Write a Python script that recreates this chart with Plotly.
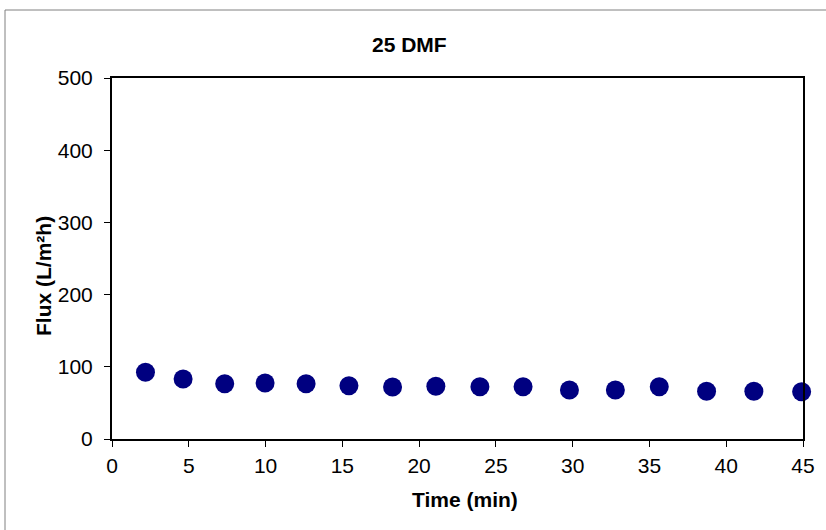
import plotly.graph_objects as go

time_min = [2.18, 4.63, 7.34, 9.97, 12.64, 15.43, 18.27, 21.09, 23.96, 26.77, 29.79, 32.78, 35.64, 38.72, 41.80, 44.91]
flux = [92.4, 83.1, 76.6, 77.6, 76.6, 73.8, 72.0, 73.0, 72.4, 72.4, 67.9, 67.9, 72.4, 66.1, 66.1, 65.5]

x_ticks = [0, 5, 10, 15, 20, 25, 30, 35, 40, 45]
y_ticks = [0, 100, 200, 300, 400, 500]

FONT = "Liberation Sans, Arial, sans-serif"
L, R, T, B = 112, 23, 78, 91
W, H = 826, 530
PW, PH = W - L - R, H - T - B


def px_to_paper(px, py):
    return (px - L) / PW, (H - B - py) / PH


fig = go.Figure()
fig.add_trace(go.Scatter(
    x=time_min, y=flux, mode="markers",
    marker=dict(size=19, color="#000080", line=dict(width=0)),
    cliponaxis=False, showlegend=False,
))

fig.update_layout(
    width=W, height=H,
    margin=dict(l=L, r=R, t=T, b=B),
    paper_bgcolor="white", plot_bgcolor="white",
    font=dict(family=FONT, color="black", size=21),
    showlegend=False,
)
fig.update_xaxes(
    range=[0, 45], tickvals=x_ticks, ticktext=[str(v) for v in x_ticks],
    showgrid=False, zeroline=False,
    showline=True, linecolor="black", linewidth=2, mirror=True,
    ticks="outside", ticklen=6, tickcolor="black", tickwidth=1,
    tickfont=dict(size=21, family=FONT), ticklabelstandoff=1,
)
fig.update_yaxes(
    range=[0, 500], tickvals=y_ticks, ticktext=[str(v) for v in y_ticks],
    showgrid=False, zeroline=False,
    showline=True, linecolor="black", linewidth=2, mirror=True,
    ticks="outside", ticklen=6, tickcolor="black", tickwidth=1,
    tickfont=dict(size=21, family=FONT), ticklabelstandoff=7,
)

tx, ty = px_to_paper(409, 45)
fig.add_annotation(
    text="<b>25 DMF</b>", xref="paper", yref="paper",
    x=tx, y=ty, showarrow=False,
    font=dict(size=21, family=FONT, color="black"),
    xanchor="center", yanchor="middle",
)
ax_, ay_ = px_to_paper(465, 499)
fig.add_annotation(
    text="<b>Time (min)</b>", xref="paper", yref="paper",
    x=ax_, y=ay_, showarrow=False,
    font=dict(size=21, family=FONT, color="black"),
    xanchor="center", yanchor="middle",
)
bx, by = px_to_paper(43, 276)
fig.add_annotation(
    text="<b>Flux (L/m²h)</b>", xref="paper", yref="paper",
    x=bx, y=by, showarrow=False, textangle=-90,
    font=dict(size=21, family=FONT, color="black"),
    xanchor="center", yanchor="middle",
)

fx0, fy1 = px_to_paper(5, 10)
fx1, fy0 = px_to_paper(840, 545)
fig.add_shape(
    type="rect", xref="paper", yref="paper",
    x0=fx0, x1=fx1, y0=fy0, y1=fy1,
    line=dict(color="#808080", width=1), fillcolor="rgba(0,0,0,0)",
    layer="below",
)

fig.write_html(
    "out.html",
    config={"displayModeBar": False},
    post_script="document.body.style.margin='0';document.body.style.overflow='hidden';",
)
